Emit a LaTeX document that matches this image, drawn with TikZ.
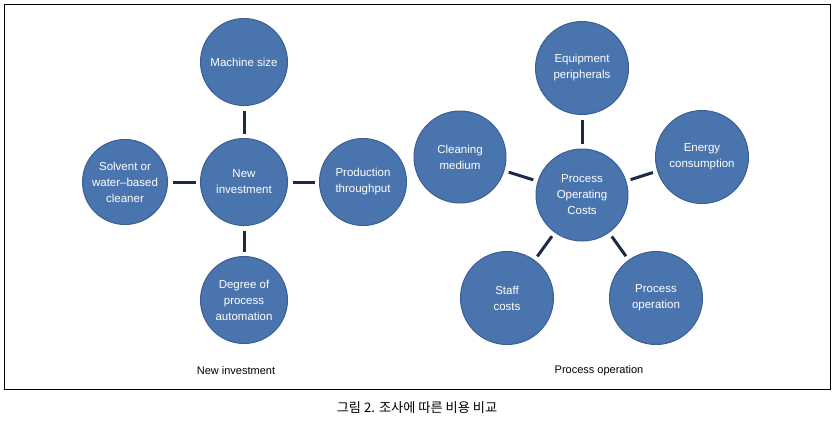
\documentclass[tikz,border=0pt]{standalone}
\usepackage{fontspec}
\setmainfont{Liberation Sans}
\newfontfamily\krfont{Noto Sans CJK KR}
\usetikzlibrary{positioning}
\definecolor{bubblefill}{HTML}{4A74AD}
\definecolor{bubbleline}{HTML}{3B5F92}
\definecolor{linknavy}{HTML}{1C2A44}

\begin{document}
\begin{tikzpicture}[x=1pt, y=-1pt,
    bubble/.style={circle, fill=bubblefill, draw=bubbleline, line width=1pt,
      inner sep=0pt, text=white, align=center,
      font=\fontsize{11.5}{16}\selectfont},
    link/.style={line width=3pt, linknavy, shorten <=4.5pt, shorten >=4.5pt}]
  \useasboundingbox (0,0) rectangle (833,421);
  \draw[line width=0.8pt] (4,4) rectangle (830,389);
  % new investment
  \node[bubble, minimum size=87pt] (newinv) at (244,182) {New\\investment};
  \node[bubble, minimum size=87pt] (machine) at (244,62) {Machine size};
  \node[bubble, minimum size=85pt] (solvent) at (125,182) {Solvent or\\water--based\\cleaner};
  \node[bubble, minimum size=87pt] (throughput) at (363,182) {Production\\throughput};
  \node[bubble, minimum size=87pt] (automation) at (244,300) {Degree of\\process\\automation};
  \foreach \n in {machine, solvent, throughput, automation}
    \draw[link] (newinv) -- (\n);
  \node[font=\fontsize{11}{13}\selectfont] (lblnew) at (236,371) {New investment};
  % process operation
  \node[bubble, minimum size=92pt] (costs) at (582,195) {Process\\Operating\\Costs};
  \node[bubble, minimum size=93pt] (equip) at (582,68) {Equipment\\peripherals};
  \node[bubble, minimum size=92pt] (cleaning) at (460,157) {Cleaning\\medium};
  \node[bubble, minimum size=93pt] (energy) at (702,157) {Energy\\consumption};
  \node[bubble, minimum size=93pt] (staff) at (507,298) {Staff\\costs};
  \node[bubble, minimum size=93pt] (operation) at (656,298) {Process\\operation};
  \foreach \n in {equip, cleaning, energy, staff, operation}
    \draw[link] (costs) -- (\n);
  \node[font=\fontsize{11}{13}\selectfont] (lblproc) at (599,371) {Process operation};
  \node[font=\krfont\fontsize{13.2}{15}\selectfont] (caption) at (417,408) {그림 2. 조사에 따른 비용 비교};
\end{tikzpicture}
\end{document}
